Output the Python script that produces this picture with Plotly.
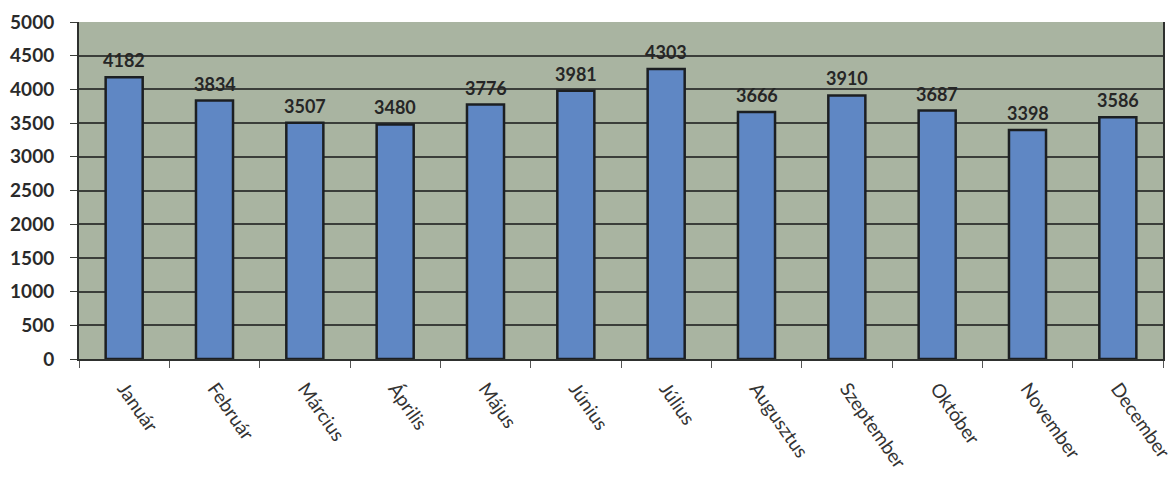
import plotly.graph_objects as go

months = ["Január", "Február", "Március", "Április", "Május", "Június",
          "Július", "Augusztus", "Szeptember", "Október", "November", "December"]
values = [4182, 3834, 3507, 3480, 3776, 3981, 4303, 3666, 3910, 3687, 3398, 3586]
y_ticks = [0, 500, 1000, 1500, 2000, 2500, 3000, 3500, 4000, 4500, 5000]

fig = go.Figure()
fig.add_trace(go.Bar(
    x=months, y=values,
    marker=dict(color="#5f87c4", line=dict(color="#1c1f22", width=2.5)),
    width=0.41,
))
for m, v in zip(months, values):
    fig.add_annotation(x=m, y=v, text=str(v), showarrow=False, yshift=17,
                       font=dict(family="Lato", size=18, color="#262626", weight="bold"))

fig.update_layout(
    width=1176, height=481,
    margin=dict(l=79, r=13, t=22, b=122),
    paper_bgcolor="white",
    plot_bgcolor="#a9b4a1",
    showlegend=False,
    font=dict(family="Lato", color="#2a2a2a"),
)
fig.update_yaxes(
    range=[0, 5000], tickvals=y_ticks,
    showgrid=True, gridcolor="#3b3e3a", gridwidth=1.5,
    ticks="outside", ticklen=7, tickcolor="#3b3e3a",
    showline=True, linecolor="#2e302e", linewidth=2, mirror=True,
    tickfont=dict(family="Lato", size=19, color="#2a2a2a", weight="bold"),
    ticklabelstandoff=12,
    zeroline=False, automargin=False,
)
fig.update_xaxes(
    tickangle=55, tickson="boundaries", ticks="outside", ticklen=7,
    tickcolor="#555", showline=True, linecolor="#2e302e", linewidth=2,
    tickfont=dict(family="Lato", size=19, color="#333"),
    ticklabelstandoff=9, automargin=False,
)
fig.write_html("out.html")
